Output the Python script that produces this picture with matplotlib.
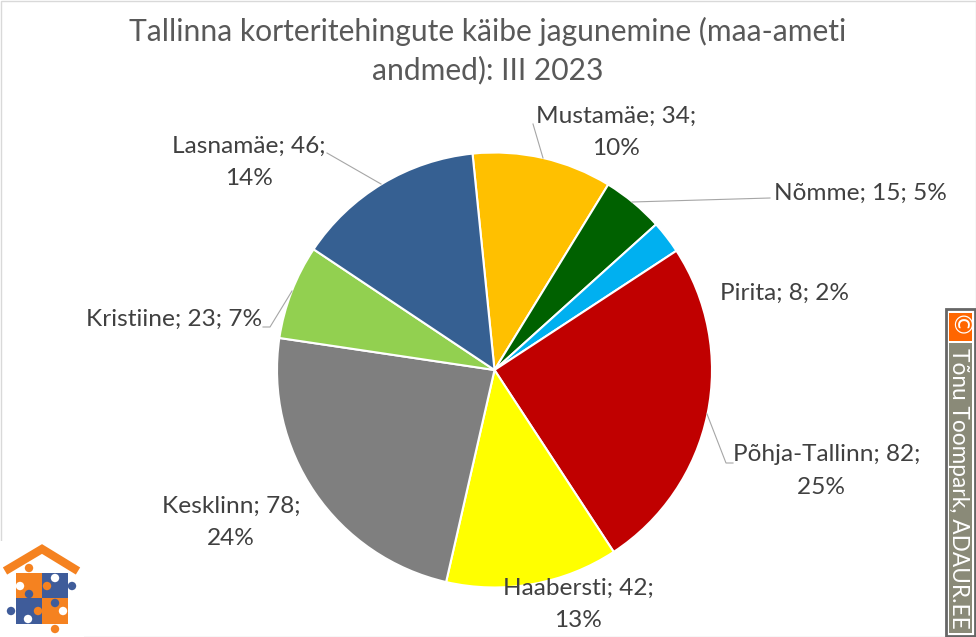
#!/usr/bin/env python3
"""Tallinn apartment deals turnover, pie chart"""

import matplotlib
matplotlib.use('Agg')
import matplotlib.pyplot as plt
from matplotlib.patches import Rectangle, Circle

plt.rcParams['font.family'] = ['Lato', 'DejaVu Sans']

districts = ['Mustamäe', 'Nõmme', 'Pirita', 'Põhja-Tallinn', 'Haabersti',
             'Kesklinn', 'Kristiine', 'Lasnamäe']
turnover = [34, 15, 8, 82, 42, 78, 23, 46]
shares = [10, 5, 2, 25, 13, 24, 7, 14]
colors = ['#FFC000', '#006100', '#00B0F0', '#C00000', '#FFFF00',
          '#7F7F7F', '#92D050', '#366092']

W, H = 976, 637
TEXT = '#404040'


def Y(y):
    # pixel rows from the top of the picture -> axes coordinates
    return H - y


fig = plt.figure(figsize=(9.76, 6.37), dpi=100)
ax = fig.add_axes([0, 0, 1, 1])

ax.pie(turnover, colors=colors, startangle=95.8, counterclock=False,
       center=(494.5, Y(370)), radius=217.5,
       wedgeprops={'edgecolor': 'white', 'linewidth': 1.5})
ax.set_xlim(0, W)
ax.set_ylim(0, H)
ax.set_aspect('equal')
ax.axis('off')

# faint chart frame
ax.add_patch(Rectangle((0.5, 0.5), W - 1, H - 1, fc='none', ec='#D9D9D9', lw=1, zorder=0))

ax.text(488, Y(31), 'Tallinna korteritehingute käibe jagunemine (maa-ameti',
        ha='center', va='center', fontsize=21.6, color='#595959')
ax.text(488, Y(70), 'andmed): III 2023',
        ha='center', va='center', fontsize=21.6, color='#595959')

# label text and its centre, pixels
label_pos = [(616, 132), (860, 193), (785, 293), (827, 471), (578, 604),
             (231, 522), (174, 319), (249, 162)]
two_line = [True, False, False, True, True, True, False, True]
for name, val, pct, pos, wrap in zip(districts, turnover, shares, label_pos, two_line):
    sep = '\n' if wrap else ' '
    # the percent line of this label sits a bit left of the first line
    tail = '  ' if name == 'Põhja-Tallinn' else ''
    ax.text(pos[0], Y(pos[1]), f'{name}; {val};{sep}{pct}%{tail}', ha='center', va='center',
            fontsize=17.6, color=TEXT, linespacing=1.65)

# leader lines
leaders = [
    ([533, 543], [124, 158]),
    ([770, 632], [198, 202]),
    ([733, 726, 707], [463, 463, 414]),
    ([263, 270, 292], [327, 327, 291]),
    ([327, 381], [153, 184]),
]
for xs, ys in leaders:
    ax.plot(xs, [Y(v) for v in ys], color='#A6A6A6', lw=0.8, zorder=1)

# copyright badge
ax.add_patch(Rectangle((945.5, Y(636)), 29.5, 327, fc='white', ec='#666666', lw=2))
ax.add_patch(Rectangle((949, Y(341)), 23, 28, fc='#FF6600', ec='none'))
ax.add_patch(Rectangle((949, Y(633)), 23, 290, fc='#8A8A78', ec='none'))
ax.text(957, Y(327), '©', rotation=-90, ha='center', va='center',
        fontsize=18, color='white', family=['DejaVu Sans'])
ax.text(958.5, Y(488), 'Tõnu Toompark, ADAUR.EE', rotation=-90, ha='center', va='center',
        fontsize=16.3, color='white')

# logo
ORANGE, BLUE = '#F58220', '#3F5C9A'
ax.add_patch(Rectangle((0, 0), 84, Y(541), fc='white', ec='none', zorder=0.5))
ax.plot([5, 42, 78], [Y(571), Y(549), Y(571)], color=ORANGE, lw=6,
        solid_joinstyle='miter', solid_capstyle='butt')
for x0, y0, c in [(16, 573, ORANGE), (42, 573, BLUE), (16, 598, BLUE), (42, 598, ORANGE)]:
    ax.add_patch(Rectangle((x0, Y(y0 + 26)), 26, 26, fc=c, ec='none'))
knobs = [(29, 568, ORANGE), (20, 586, 'white'), (55, 578, 'white'), (47, 586, ORANGE),
         (72, 586, BLUE), (29, 594, BLUE), (11, 611, BLUE), (28, 619, 'white'),
         (55, 603, BLUE), (38, 611, ORANGE), (63, 611, 'white'), (55, 629, ORANGE)]
for kx, ky, c in knobs:
    ax.add_patch(Circle((kx, Y(ky)), 4.2, fc=c, ec='none'))

fig.savefig('out.png', dpi=100)
